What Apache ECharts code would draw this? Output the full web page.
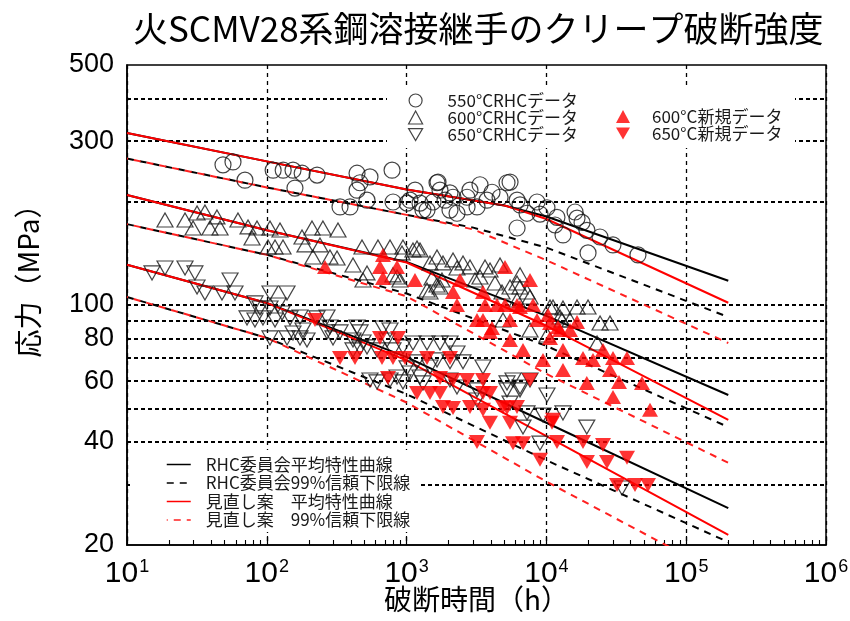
<!DOCTYPE html>
<html>
<head>
<meta charset="utf-8">
<script src="https://cdn.jsdelivr.net/npm/echarts@6/dist/echarts.min.js"></script>
<style>html,body{margin:0;padding:0;background:#fff;}#c{width:850px;height:621px;}</style>
</head>
<body>
<div id="c"></div>
<script>
// ---------------- data (time [h], stress [MPa]) ----------------
const rhc550 = [[48.6,256],[57.3,261],[69.8,231],[111,247],[131,247],[154,247],[179,242],[229,239],[159,219],[334,193],[394,193],[442,242],[547,236],[464,227],[442,216],[521,202],[787,247],[800,199.5],[1007,198],[1247,198],[1400,189],[1650,227],[1733,216],[2147,206],[2294,185],[2706,193],[1057,202],[1309,189],[1678,228],[1546,199.5],[2043,189],[2043,212],[3350,224],[2706,206],[3190,193],[3758,202],[5227,227],[5495,228],[4660,206],[6170,202],[6170,167.6],[7266,185],[8570,199.5],[10090,192],[11900,180],[13150,160],[16030,186.6],[16560,179],[17990,174],[19500,165],[19850,141.8],[24170,157.8],[29930,149.6],[45180,139.9],[2840,216],[4084,213],[9000,184],[1150,216],[1883,202],[6476,195.6],[11530,171]];
const rhc600 = [[18.7,176.9],[26,176.9],[31.7,185.4],[36.1,186.6],[44,180.5],[29.7,167.6],[39.2,167.6],[46.3,167.6],[62.2,176.9],[73.4,168.8],[78.4,156.7],[85.1,167.6],[105.4,167.6],[124.3,165.4],[102,147.6],[114.5,147.6],[130.6,147.6],[178.6,157.8],[210.5,167.6],[252,167.6],[323,165.4],[187.6,149.6],[240,149.6],[214,138],[283,138],[318,137.1],[413.7,130.8],[479.7,147.6],[624,147.6],[521,124],[487.7,118.3],[942,147.6],[927,141.8],[1187,146.6],[854,120.7],[1470,132.6],[1650,138],[1470,109.1],[1734,112.8],[2148,135.3],[2293,128.2],[761,147.6],[1111,144.7],[1247,144.7],[1821,132.6],[2532,132.6],[2841,129.1],[3638,129.1],[3951,126.5],[3350,120.7],[4290,115.9],[5492,112.8],[6476,112.8],[7265,109.1],[7634,105.5],[6162,103.4],[4813,109.1],[1520,119.9],[1650,114.4],[1791,118.3],[799,122.4],[897,118.3],[11150,98.7],[12930,90.4],[4658,130.8],[6162,115.9],[1400,110.6],[10610,98.7],[13140,98],[16560,98.7],[19850,98.7],[24200,88.6],[28510,88.6],[12510,92.3],[14750,90.4],[7634,84.6],[10100,81.8],[23030,77.5],[4894,90.4],[6476,122.4],[3085,118.3]];
const rhc650 = [[15.1,124],[18.7,128.2],[26,128.2],[30.6,124],[31.7,112.8],[36.1,108.4],[47.8,108.4],[59.2,108.4],[54.6,118.3],[105.4,108.4],[139.5,108.4],[89.4,98],[105.4,98],[120.3,100],[128.5,94.8],[72.2,91.7],[93.9,91.7],[114.5,90.4],[146.6,91.7],[172.8,92.3],[228.6,91.7],[269.6,92.3],[105.4,80.2],[139.5,80.2],[172.8,80.2],[193.9,79.1],[181.5,84.6],[269.6,83.5],[333.9,83.5],[464.4,83.5],[297.6,80.2],[413.7,79.1],[487.7,78],[761,84.6],[413.7,74],[521,75.5],[614.3,74],[799,74],[942,75.5],[614.3,59.7],[942,59.7],[82.3,101.4],[82.3,90.4],[153.9,82.9],[283,86.3],[441.8,86.3],[678,85.7],[464.4,75],[724,79.1],[1111,77.5],[1400,77.5],[1734,77.5],[2044,77.5],[1187,68.3],[1470,66],[1650,69.2],[2044,68.3],[2532,68.3],[3519,66],[1007,65.6],[1057,63.4],[547,60.5],[761,60.5],[854,61.7],[1247,61.7],[1310,59.3],[2044,60.5],[2293,57.7],[5770,60.5],[7634,60.5],[6476,56.6],[5226,56.6],[3189,56.6],[3189,52.9],[5492,51.8],[7265,48.5],[9455,47.8],[6802,44.1],[2293,72.5],[5226,59.3],[6476,57.7],[10100,54.7],[13140,48.5],[19450,44.1],[9000,39.6],[34740,29.3]];
const new600 = [[260.8,129.1],[678,139.9],[645,129.1],[854,129.1],[678,119.9],[1148,118.3],[2148,109.1],[2410,118.3],[2293,100],[3519,109.1],[3638,100],[4436,100],[5057,100],[6162,100],[8021,100],[5057,129.1],[7634,118.3],[3189,90.4],[3519,90.4],[5492,90.4],[8566,90.4],[10270,93.5],[12100,86.3],[4083,85.7],[10610,88.6],[12510,84.6],[14750,84.6],[16560,89.2],[3951,83.5],[5492,79.1],[6802,74],[10610,80.2],[13140,74],[9455,69.2],[13140,64.7],[18270,70.1],[21540,69.2],[25400,74],[29950,70.1],[37720,70.1],[28510,64.7],[19450,59.3],[33070,59.7],[48290,59.3],[29950,54],[55100,49.5],[6476,98.7]];
const new650 = [[221.2,90.4],[645,80.2],[868,80.2],[333.9,70.1],[427.4,70.1],[667,70.1],[799,70.1],[974,70.1],[1400,70.1],[2044,70.1],[736,61.3],[1734,61.3],[2148,60.5],[2704,60.5],[3519,60.5],[7634,60.5],[1187,55.4],[1470,55.4],[1734,55.4],[3519,55.4],[3951,55.4],[1821,50.5],[2148,50.1],[2841,50.5],[3519,49.5],[4894,50.5],[6162,50.5],[3951,45.4],[5492,45.4],[3189,39.9],[5770,39.6],[6802,39.6],[9000,35.4],[11150,46.3],[11910,39.9],[18270,39.9],[25400,39.1],[19500,34.9],[27130,34.9],[37720,35.9],[31990,29.9],[43030,29.9],[53320,29.9],[10970,45.4],[5226,50.1]];

// fitted curves
const rhcMean550 = [[10,317],[100,262],[1000,217],[5000,195],[10000,181],[200000,117.7]];
const newMean550 = [[10,317],[100,262],[1000,217],[5000,195],[10000,178],[200000,101.5]];
const rhcLow550  = [[10,267],[100,220],[1000,183],[3000,168],[10000,147],[200000,92.3]];
const newLow550  = [[10,267],[100,220],[1000,183],[3000,166],[10000,135],[200000,77.5]];
const rhcMean600 = [[10,209],[100,165],[1000,133.5],[10000,93],[200000,54.7]];
const newMean600 = [[10,209],[100,165],[1000,133],[10000,87],[200000,46.3]];
const rhcLow600  = [[10,172],[100,140],[1000,108],[10000,76],[200000,44.1]];
const newLow600  = [[10,172],[100,140],[1000,106],[10000,63],[200000,34.7]];
const rhcMean650 = [[10,131],[100,101.4],[1000,70.5],[10000,45.4],[200000,25.6]];
const newMean650 = [[10,131],[100,101.4],[1000,69],[10000,41.5],[200000,21.4]];
const rhcLow650  = [[10,105.5],[100,80.2],[1000,55],[10000,35.3],[200000,20.4]];
const newLow650  = [[10,105.5],[100,80.2],[1000,52],[10000,30.6],[200000,16]];

// axis ticks / labels
const yTickLabels = [20,40,60,80,100,300,500];
const yGridValues = [30,40,50,60,70,80,90,100,200,300,400];
const xMin = 10, xMax = 1e6;

const scatterNames = ['550°CRHCデータ','600°CRHCデータ','650°CRHCデータ','600°C新規データ','650°C新規データ'];
const lineNames = ['RHC委員会平均特性曲線','RHC委員会99%信頼下限線','見直し案　平均特性曲線','見直し案　99%信頼下限線'];

// ---------------- chart ----------------
const JP = '"Noto Sans CJK JP","Noto Sans",sans-serif';
const LAT = '"Liberation Sans",Arial,sans-serif';
const INV = 'path://M0,0L20,0L10,17Z';

const minorTicks = [];
for (let d = 10; d < xMax; d *= 10) for (let k = 2; k <= 9; k++) minorTicks.push(d * k);

function lineSeries(name, data, color, dashed, dashOffset) {
  return {
    name, type: 'line', data, z: 2, symbol: 'none', showSymbol: false, silent: true,
    itemStyle: { color },
    lineStyle: { color, width: 2, type: dashed ? [7, 6] : 'solid', dashOffset: dashOffset || 0 }
  };
}
function openSeries(name, data, symbol, size) {
  return {
    name, type: 'scatter', data, symbol, symbolSize: size, z: 3, silent: true,
    itemStyle: { color: 'rgba(0,0,0,0)', borderColor: '#151515', borderWidth: 1.2 }
  };
}
function fillSeries(name, data, symbol, size) {
  return {
    name, type: 'scatter', data, symbol, symbolSize: size, z: 4, silent: true,
    itemStyle: { color: '#ff0000', borderWidth: 0 }
  };
}

const series = [
  Object.assign(lineSeries(lineNames[0], rhcMean550, '#000', false), {
    markLine: {
      silent: true, symbol: 'none', z: 1, animation: false,
      label: { show: false },
      lineStyle: { color: '#000', type: [4, 3], width: 2.2 },
      data: yGridValues.map(v => ({ yAxis: v }))
    }
  }),
  lineSeries(lineNames[0], rhcMean600, '#000', false),
  lineSeries(lineNames[0], rhcMean650, '#000', false),
  lineSeries(lineNames[1], rhcLow550, '#000', true),
  lineSeries(lineNames[1], rhcLow600, '#000', true),
  lineSeries(lineNames[1], rhcLow650, '#000', true),
  lineSeries(lineNames[2], newMean550, '#ff0000', false),
  lineSeries(lineNames[2], newMean600, '#ff0000', false),
  lineSeries(lineNames[2], newMean650, '#ff0000', false),
  lineSeries(lineNames[3], newLow550, '#ff2020', true, 6),
  lineSeries(lineNames[3], newLow600, '#ff2020', true, 6),
  lineSeries(lineNames[3], newLow650, '#ff2020', true, 6),
  openSeries(scatterNames[0], rhc550, 'circle', 16),
  openSeries(scatterNames[1], rhc600, 'triangle', [16, 14]),
  openSeries(scatterNames[2], rhc650, INV, [16, 14]),
  fillSeries(scatterNames[3], new600, 'triangle', [16, 14]),
  fillSeries(scatterNames[4], new650, INV, [16, 14])
];

const chart = echarts.init(document.getElementById('c'), null, { renderer: 'canvas' });
chart.setOption({
  animation: false,
  backgroundColor: '#fff',
  title: {
    text: '火SCMV28系鋼溶接継手のクリープ破断強度',
    left: 128, top: 6,
    textStyle: { fontSize: 35, fontWeight: 'normal', color: '#000', fontFamily: JP }
  },
  grid: {
    left: 127, right: 24, top: 65, bottom: 76,
    show: true, borderColor: '#000', borderWidth: 1.5, backgroundColor: 'transparent',
    containLabel: false, outerBoundsMode: 'none'
  },
  xAxis: [{
    type: 'log', logBase: 10, min: xMin, max: xMax, position: 'bottom',
    name: '破断時間（h）', nameLocation: 'middle', nameGap: 40, nameMoveOverlap: false,
    nameTextStyle: { fontSize: 28, color: '#000', fontFamily: JP },
    axisLine: { lineStyle: { color: '#000', width: 1.5 } },
    axisTick: { inside: true, length: 9, lineStyle: { color: '#000', width: 1.2 } },
    splitLine: { show: true, lineStyle: { color: '#000', type: [4, 4], width: 1.3 } },
    axisLabel: {
      margin: 13, color: '#000',
      formatter: v => '{b|10}{s|' + Math.round(Math.log10(v)) + '}',
      rich: {
        b: { fontSize: 30, fontFamily: LAT, color: '#000' },
        s: { fontSize: 18, fontFamily: LAT, color: '#000', padding: [0, 0, 14, 1] }
      }
    }
  }, {
    type: 'log', logBase: 10, min: xMin, max: xMax, position: 'bottom', gridIndex: 0,
    axisLine: { show: false }, axisLabel: { show: false }, splitLine: { show: false },
    axisTick: { show: true, inside: true, length: 5, customValues: minorTicks, lineStyle: { color: '#000', width: 1.1 } }
  }],
  yAxis: {
    type: 'log', logBase: 10, min: 20, max: 500,
    axisLine: { show: true, lineStyle: { color: '#000', width: 1.5 } },
    axisTick: { show: false },
    splitLine: { show: false },
    axisLabel: { customValues: yTickLabels, fontSize: 27, fontFamily: LAT, color: '#000', margin: 13 }
  },
  legend: [{
    data: scatterNames.slice(0, 3), orient: 'vertical', left: 408, top: 92, padding: 0,
    itemWidth: 14, itemHeight: 13, itemGap: 0, z: 8, selectedMode: false,
    itemStyle: { borderWidth: 1.2 },
    formatter: n => '{p| }' + n,
    textStyle: { fontSize: 17, color: '#1a1a1a', fontFamily: JP, rich: { p: { width: 20, fontSize: 17 } } }
  }, {
    data: scatterNames.slice(3), orient: 'vertical', left: 616, top: 108, padding: 0,
    itemWidth: 14, itemHeight: 13, itemGap: 0, z: 8, selectedMode: false,
    formatter: n => '{p| }' + n,
    textStyle: { fontSize: 17, color: '#1a1a1a', fontFamily: JP, rich: { p: { width: 17, fontSize: 17 } } }
  }, {
    data: lineNames, orient: 'vertical', left: 166, top: 456, padding: 0,
    itemWidth: 24, itemHeight: 12, itemGap: 1.5, z: 8, selectedMode: false,
    lineStyle: { width: 1.5 },
    itemStyle: { opacity: 0 },
    formatter: n => '{p| }' + n,
    textStyle: { fontSize: 17, color: '#1a1a1a', fontFamily: JP, rich: { p: { width: 10, fontSize: 17 } } }
  }],
  graphic: [
    { type: 'rect', z: 5, silent: true, shape: { x: 387, y: 89, width: 408, height: 59 }, style: { fill: '#fff' } },
    { type: 'rect', z: 5, silent: true, shape: { x: 130, y: 450, width: 288, height: 82 }, style: { fill: '#fff' } },
    { type: 'text', z: 8, silent: true, x: 28, y: 274, rotation: Math.PI / 2,
      style: { text: '応力（MPa）', font: '28px ' + JP, fill: '#000', align: 'center', verticalAlign: 'middle', textAlign: 'center', textVerticalAlign: 'middle' } }
  ],
  series
});
</script>
</body>
</html>
